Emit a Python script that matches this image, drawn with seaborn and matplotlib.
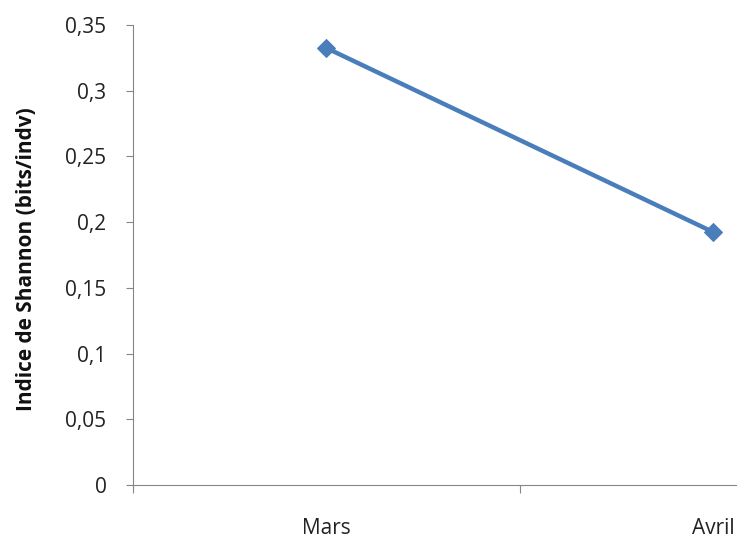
import numpy as np
import pandas as pd
import matplotlib
matplotlib.use("Agg")
import matplotlib.pyplot as plt
from matplotlib.ticker import FuncFormatter, FixedLocator
import seaborn as sns

# data
months = ["Mars", "Avril"]
shannon = [0.3325, 0.1925]
y_ticks = [0, 0.05, 0.1, 0.15, 0.2, 0.25, 0.3, 0.35]

sns.set_style("white")
plt.rcParams["font.family"] = ["Open Sans", "DejaVu Sans"]

df = pd.DataFrame({"mois": months, "indice": shannon})

fig = plt.figure(figsize=(7.37, 5.39), dpi=100)
ax = fig.add_axes([133 / 737, 1 - 485 / 539, 1 - 133 / 737, (485 - 25) / 539])

line_color = "#4a7ebb"
sns.lineplot(data=df, x="mois", y="indice", ax=ax, color=line_color,
             linewidth=3.2, marker="D", markersize=9.5,
             markeredgecolor=line_color, sort=False)

ax.set_ylim(0, 0.35)
ax.set_xlim(-0.5, 1.062)
ax.yaxis.set_major_locator(FixedLocator(y_ticks))
ax.yaxis.set_major_formatter(FuncFormatter(lambda v, p: f"{v:g}".replace(".", ",")))

ax.set_xticks([0, 1])
ax.set_xticklabels(months)
ax.set_xticks([-0.5, 0.5], minor=True)
ax.tick_params(axis="x", which="major", length=0, pad=24, labelsize=15, labelcolor="#222222")
ax.tick_params(axis="x", which="minor", bottom=True, length=6, width=0.8,
               color="#868686", direction="out")
ax.tick_params(axis="y", which="major", left=True, length=5, width=0.8, color="#868686",
               direction="out", pad=14, labelsize=15, labelcolor="#222222")

for side in ["top", "right"]:
    ax.spines[side].set_visible(False)
for side in ["left", "bottom"]:
    ax.spines[side].set_color("#868686")
    ax.spines[side].set_linewidth(0.8)

ax.set_xlabel("")
ax.set_ylabel("Indice de Shannon (bits/indv)", fontsize=15, fontweight="bold",
              color="#111111")
ax.yaxis.set_label_coords(-0.159, 0.49)
ax.grid(False)

fig.savefig("out.png", dpi=100)
